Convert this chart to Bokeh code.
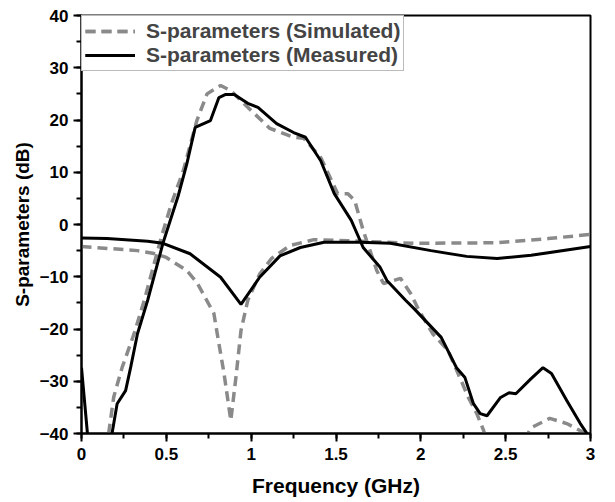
from bokeh.plotting import figure
from bokeh.models import Range1d, SingleIntervalTicker, Legend, LegendItem
from bokeh.embed import file_html
from bokeh.resources import INLINE

# Simulated S21
sim_s21_f = [0.12, 0.16, 0.19, 0.24, 0.31, 0.37, 0.42, 0.47, 0.53, 0.60, 0.68, 0.74, 0.82, 0.88,
             1.00, 1.11, 1.25, 1.31, 1.41, 1.51, 1.57, 1.61, 1.66, 1.74, 1.78, 1.88, 1.94, 1.99,
             2.07, 2.16, 2.23, 2.28, 2.33, 2.37, 2.42, 2.55, 2.65, 2.76, 2.86, 2.96, 3.00]
sim_s21_db = [-46, -40, -33, -27.3, -20.9, -14.5, -8.5, -2.5, 4.0, 10.3, 19.9, 25.0, 26.6, 25.6,
              21.8, 18.4, 16.7, 16.5, 12.8, 5.9, 5.9, 4.6, -1.1, -8.8, -11.3, -10.3, -13.2, -16.5,
              -20.9, -24.1, -29.3, -33.1, -36.2, -39.4, -45, -45, -38.9, -37.1, -38.1, -39.8, -41]

# Simulated S11
sim_s11_f = [0.0, 0.33, 0.42, 0.50, 0.62, 0.68, 0.78, 0.80, 0.84, 0.88, 0.91, 0.94, 0.98,
             1.05, 1.12, 1.23, 1.37, 1.57, 1.96, 2.45, 2.75, 3.00]
sim_s11_db = [-4.2, -5.0, -5.5, -6.3, -8.8, -11.1, -17.0, -20.9, -28.5, -37.5, -29.3, -20.3, -14.5,
              -9.5, -6.5, -4.0, -2.9, -3.1, -3.6, -3.5, -2.7, -1.9]

# Measured S21
meas_s21_f = [0.0, 0.035, 0.08, 0.15, 0.18, 0.21, 0.26, 0.29, 0.33, 0.39, 0.48, 0.57, 0.62, 0.67,
              0.76, 0.81, 0.85, 0.90, 0.98, 1.04, 1.15, 1.25, 1.32, 1.41, 1.49, 1.59, 1.66, 1.76,
              1.80, 1.91, 1.96, 2.12, 2.21, 2.26, 2.31, 2.35, 2.39, 2.47, 2.52, 2.56, 2.65, 2.72,
              2.77, 2.86, 2.94, 3.00]
meas_s21_db = [-27.4, -40, -48, -48, -40, -34.3, -31.8, -27.3, -20.9, -14.5, -3.6, 5.5, 11.5, 18.6,
               19.9, 24.3, 24.9, 24.9, 23.2, 22.4, 19.3, 17.6, 16.7, 12.2, 5.9, 0.8, -4.4, -8.2,
               -10.7, -14.5, -16.1, -21.6, -27.4, -29.3, -34.3, -36.2, -36.6, -33.1, -32.2, -32.4,
               -29.5, -27.4, -28.5, -33.7, -38.1, -41]

# Measured S11
meas_s11_f = [0.0, 0.15, 0.39, 0.48, 0.64, 0.82, 0.94, 1.05, 1.17, 1.29, 1.43, 1.64, 1.82, 2.06,
              2.27, 2.45, 2.65, 3.00]
meas_s11_db = [-2.6, -2.7, -3.2, -3.6, -5.6, -10.1, -15.3, -10.1, -6.0, -4.4, -3.4, -3.4, -3.6,
               -5.0, -6.1, -6.5, -5.9, -4.2]

x_ticks_interval = 0.5
y_ticks_interval = 10

FONT = "Liberation Sans"
GRAY = "#8a8a8a"

p = figure(width=605, height=500, output_backend="svg", toolbar_location=None,
           x_range=Range1d(0, 3), y_range=Range1d(-40, 40),
           min_border_left=81, min_border_top=15, min_border_right=15, min_border_bottom=67)
p.xgrid.visible = False
p.ygrid.visible = False
p.outline_line_color = "black"
p.outline_line_width = 2
p.outline_line_alpha = 1.0

p.xaxis.ticker = SingleIntervalTicker(interval=x_ticks_interval, num_minor_ticks=2)
p.yaxis.ticker = SingleIntervalTicker(interval=y_ticks_interval, num_minor_ticks=2)
p.xaxis.formatter.use_scientific = False

for ax in (p.xaxis[0], p.yaxis[0]):
    ax.axis_line_width = 2
    ax.major_tick_line_width = 2
    ax.minor_tick_line_width = 2
    ax.major_tick_out = 8
    ax.major_tick_in = 0
    ax.minor_tick_out = 5
    ax.minor_tick_in = 0
    ax.major_label_text_font = FONT
    ax.major_label_text_font_style = "bold"
    ax.major_label_text_font_size = "17px"
    ax.major_label_text_color = "black"
    ax.axis_label_text_font = FONT
    ax.axis_label_text_font_style = "bold"
    ax.axis_label_text_color = "black"

p.xaxis.axis_label = "Frequency (GHz)"
p.yaxis.axis_label = "S-parameters (dB)"
p.xaxis.axis_label_text_font_size = "21px"
p.yaxis.axis_label_text_font_size = "19px"
p.xaxis.major_label_standoff = 6
p.yaxis.major_label_standoff = 5
p.xaxis.axis_label_standoff = 11
p.yaxis.axis_label_standoff = 4

r_sim21 = p.line(sim_s21_f, sim_s21_db, line_color=GRAY, line_width=3.5, line_dash="10 6")
r_sim11 = p.line(sim_s11_f, sim_s11_db, line_color=GRAY, line_width=3.5, line_dash="10 6")
r_meas21 = p.line(meas_s21_f, meas_s21_db, line_color="black", line_width=3)
r_meas11 = p.line(meas_s11_f, meas_s11_db, line_color="black", line_width=3)

legend = Legend(items=[
    LegendItem(label="S-parameters (Simulated)", renderers=[r_sim21, r_sim11]),
    LegendItem(label="S-parameters (Measured)", renderers=[r_meas21, r_meas11]),
], location="top_left")
legend.margin = 0
legend.padding = 3
legend.spacing = 0
legend.glyph_width = 50
legend.glyph_height = 24
legend.label_standoff = 11
legend.label_text_font = FONT
legend.label_text_font_style = "bold"
legend.label_text_font_size = "21px"
legend.label_text_line_height = 1.1
legend.label_height = 23
legend.border_line_color = "#777777"
legend.border_line_width = 1
legend.background_fill_alpha = 1.0
p.add_layout(legend)

open("out.html", "w").write(file_html(p, INLINE))
